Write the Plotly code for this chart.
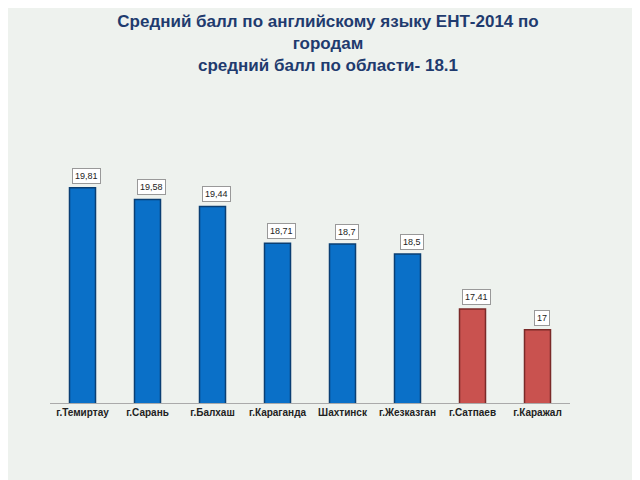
import plotly.graph_objects as go

cities = ["г.Темиртау", "г.Сарань", "г.Балхаш", "г.Караганда", "Шахтинск", "г.Жезказган", "г.Сатпаев", "г.Каражал"]
scores = [19.81, 19.58, 19.44, 18.71, 18.7, 18.5, 17.41, 17.0]
labels = ["19,81", "19,58", "19,44", "18,71", "18,7", "18,5", "17,41", "17"]
colors = ["#0a70c8"] * 6 + ["#c9524f"] * 2
borders = ["#0a3f73"] * 6 + ["#7a2a28"] * 2

fig = go.Figure(go.Bar(
    x=cities, y=scores, width=0.4,
    marker=dict(color=colors, line=dict(color=borders, width=1.5)),
))
for c, v, t in zip(cities, scores, labels):
    fig.add_annotation(x=c, y=v, text=t, showarrow=False, yshift=12, xshift=4,
                       font=dict(family="Liberation Sans", size=9, color="#222"),
                       bgcolor="white", bordercolor="#999", borderwidth=1, borderpad=2)

fig.update_layout(
    width=640, height=480,
    paper_bgcolor="#eef2ee", plot_bgcolor="rgba(0,0,0,0)",
    margin=dict(l=42, r=78, t=150, b=85),
    showlegend=False, bargap=0.6,
    title=dict(text="<b>Средний балл по английскому языку ЕНТ-2014 по<br>городам<br>средний балл по области- 18.1</b>",
               x=0.5, xanchor="center", y=0.96, yanchor="top",
               font=dict(family="Liberation Sans", size=17, color="#1f3b6e")),
    xaxis=dict(tickfont=dict(family="Liberation Sans", size=10, color="#222"),
               showline=True, linecolor="#aaa", ticks="", tickprefix="<b>", ticksuffix="</b>"),
    yaxis=dict(range=[15.55, 20.4], visible=False),
)
fig.write_html("out.html")
